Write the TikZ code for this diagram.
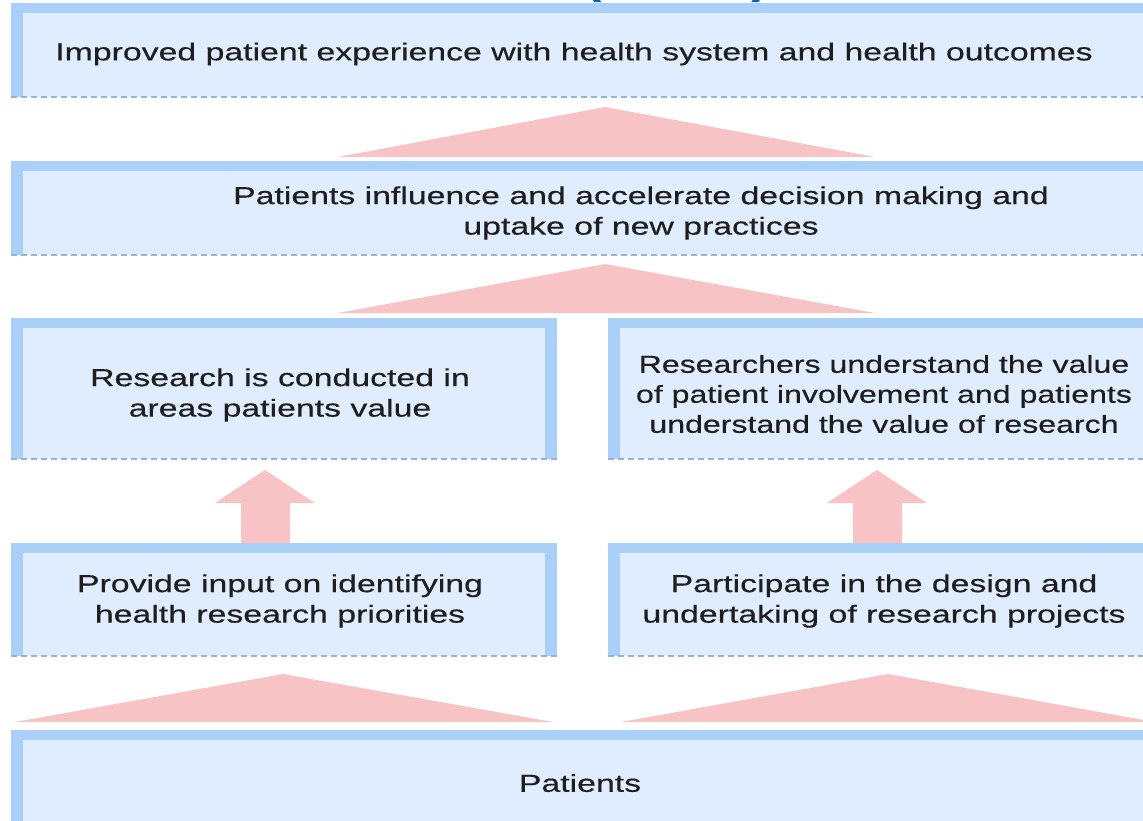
\documentclass[tikz,border=0pt]{standalone}
\usepackage{fontspec}
\setmainfont[FakeStretch=1.38,FakeBold=0.4]{Liberation Sans}
\newfontfamily\narrowfont[FakeStretch=1.31,FakeBold=0.4]{Liberation Sans}
\newfontfamily\titlefont[FakeStretch=1.2]{Liberation Sans}
\definecolor{boxfill}{HTML}{DFEDFE}
\definecolor{barcol}{HTML}{AAD0FA}
\definecolor{dashcol}{HTML}{93B3DE}
\definecolor{pinkcol}{HTML}{F8C3C5}
\definecolor{txtcol}{HTML}{1E1E1E}
\definecolor{titleblue}{HTML}{0A5EC0}
\tikzset{
  panel/.style={fill=boxfill, draw=none},
  bar/.style={fill=barcol, draw=none},
  dashline/.style={draw=dashcol, line width=2.2pt, dash pattern=on 6pt off 4pt},
  flow/.style={fill=pinkcol, draw=none},
  label/.style={text=txtcol, font=\fontsize{24.5}{30.5}\selectfont, align=center, inner sep=0pt},
}
\begin{document}
\begin{tikzpicture}[x=1pt,y=-1pt]
\useasboundingbox (0,0) rectangle (1143,821);
\begin{scope}
\clip (0,0) rectangle (1143,821);
% partially visible title parentheses
\node[anchor=base, text=titleblue, font=\titlefont\bfseries\fontsize{44}{50}\selectfont, inner sep=0pt] (title) at (677,-6) {(\phantom{SPOR})};
% ---------- box 1
\fill[panel] (11,3) rectangle (1143,97);
\fill[bar] (11,3) rectangle (1143,13);
\fill[bar] (11,3) rectangle (23,97);
\draw[dashline] (11,97) -- (1143,97);
% ---------- box 2
\fill[panel] (11,161) rectangle (1143,255);
\fill[bar] (11,161) rectangle (1143,171);
\fill[bar] (11,161) rectangle (23,255);
\draw[dashline] (11,255) -- (1143,255);
% ---------- box 3L
\fill[panel] (11,318) rectangle (557,459);
\fill[bar] (11,318) rectangle (557,328);
\fill[bar] (11,318) rectangle (23,459);
\fill[bar] (545,318) rectangle (557,459);
\draw[dashline] (11,459) -- (557,459);
% ---------- box 3R
\fill[panel] (608,318) rectangle (1143,459);
\fill[bar] (608,318) rectangle (1143,328);
\fill[bar] (608,318) rectangle (620,459);
\draw[dashline] (608,459) -- (1143,459);
% ---------- box 4L
\fill[panel] (11,543) rectangle (557,656);
\fill[bar] (11,543) rectangle (557,553);
\fill[bar] (11,543) rectangle (23,656);
\fill[bar] (545,543) rectangle (557,656);
\draw[dashline] (11,656) -- (557,656);
% ---------- box 4R
\fill[panel] (608,543) rectangle (1143,656);
\fill[bar] (608,543) rectangle (1143,553);
\fill[bar] (608,543) rectangle (620,656);
\draw[dashline] (608,656) -- (1143,656);
% ---------- box 5
\fill[panel] (11,730) rectangle (1143,821);
\fill[bar] (11,730) rectangle (1143,740);
\fill[bar] (11,730) rectangle (23,821);
% ---------- pink flows
\fill[flow] (338,157) -- (605,107) -- (875,157) -- cycle;
\fill[flow] (338,313) -- (605,264) -- (875,313) -- cycle;
\fill[flow] (15,722) -- (283,674) -- (553,722) -- cycle;
\fill[flow] (621,722) -- (888,674) -- (1155,722) -- cycle;
\fill[flow] (241,543) -- (241,503) -- (215,503) -- (265,470) -- (315,503) -- (290,503) -- (290,543) -- cycle;
\fill[flow] (853,543) -- (853,503) -- (827,503) -- (877,470) -- (927,503) -- (902,503) -- (902,543) -- cycle;
\end{scope}
% ---------- texts
\node[label] (t1) at (574,54) {Improved patient experience with health system and health outcomes};
\node[label] (t2) at (641,213) {Patients influence and accelerate decision making and\\uptake of new practices};
\node[label] (t3l) at (280,395) {Research is conducted in\\areas patients value};
\node[label, font=\narrowfont\fontsize{24.5}{30}\selectfont] (t3r) at (884,394) {Researchers understand the value\\of patient involvement and patients\\understand the value of research};
\node[label] (t4l) at (280,601) {Provide input on identifying\\health research priorities};
\node[label] (t4r) at (884,601) {Participate in the design and\\undertaking of research projects};
\node[label] (t5) at (580,783) {Patients};
\end{tikzpicture}
\end{document}
